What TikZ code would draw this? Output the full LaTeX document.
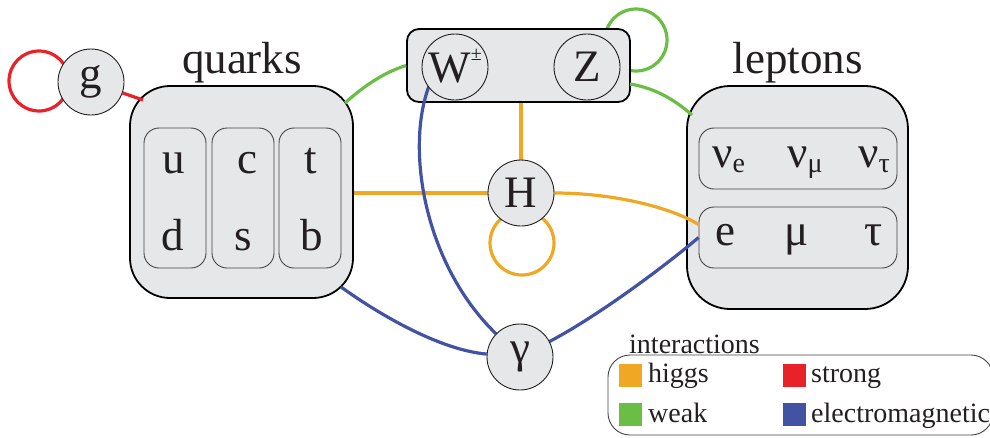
\documentclass[tikz,border=0pt]{standalone}
\usepackage{fontspec}
\setmainfont{LiberationSerif}[Extension=.ttf, UprightFont=*-Regular,
  BoldFont=*-Bold, ItalicFont=*-Italic, BoldItalicFont=*-BoldItalic]
\usetikzlibrary{calc}

\definecolor{ink}{RGB}{35,31,32}
\definecolor{panel}{RGB}{230,231,232}
\definecolor{cellline}{RGB}{70,68,68}
\definecolor{higgscol}{RGB}{240,167,35}
\definecolor{strongcol}{RGB}{233,33,40}
\definecolor{weakcol}{RGB}{107,190,69}
\definecolor{emcol}{RGB}{67,83,163}

\pgfdeclarelayer{loops}
\pgfdeclarelayer{links}
\pgfdeclarelayer{top}
\pgfsetlayers{loops,main,links,top}

\begin{document}
\begin{tikzpicture}[x=1pt,y=-1pt,
  every node/.style={text=ink},
  bigfont/.style={font=\fontsize{45}{50}\selectfont},
  legfont/.style={font=\fontsize{28}{32}\selectfont},
  particle/.style={circle, draw=ink, line width=0.9pt, fill=panel,
    minimum size=66pt, inner sep=0pt, bigfont},
  group/.style={draw=black, line width=1.8pt, fill=panel,
    rounded corners=#1, inner sep=0pt},
  cell/.style={draw=cellline, line width=0.9pt, rounded corners=15pt, inner sep=0pt},
  link/.style={line width=3.2pt},
  swatch/.style={fill=#1, minimum size=23pt, inner sep=0pt},
  txt/.style={bigfont, anchor=base, inner sep=0pt},
  legtxt/.style={legfont, anchor=base west, inner sep=0pt}]

\useasboundingbox (0,0) rectangle (990,437);

% ---- force carriers (drawn on top of everything) ----
\begin{pgfonlayer}{top}
  \node[particle] (g) at (91,82) {g};
  \node[particle, text height=30pt, text depth=0pt] (W) at (455,67)
    {W\raisebox{22pt}{\fontsize{20}{20}\selectfont ±}};
  \node[particle] (Z) at (587,67) {Z};
  \node[particle] (H) at (521,193) {H};
  \node[particle] (gam) at (520,357) {γ};
\end{pgfonlayer}

% ---- quarks ----
\node[group=40pt, minimum width=223pt, minimum height=212pt] (Q) at (241.5,192) {};
\node[txt] (qlab) at (242,73) {quarks};
\node[cell, minimum width=62pt, minimum height=140pt] (q1) at (175,198) {};
\node[cell, minimum width=62pt, minimum height=140pt] (q2) at (243,198) {};
\node[cell, minimum width=62pt, minimum height=140pt] (q3) at (310,198) {};
\node[txt] (qu) at (174,173) {u};
\node[txt] (qd) at (173,250) {d};
\node[txt] (qc) at (247,173) {c};
\node[txt] (qs) at (243,250) {s};
\node[txt] (qt) at (311,173) {t};
\node[txt] (qb) at (312,250) {b};

% ---- leptons ----
\node[group=43pt, minimum width=221pt, minimum height=223pt] (L) at (797.5,197.5) {};
\node[txt] (llab) at (797.5,73) {leptons};
\node[cell, minimum width=198pt, minimum height=61pt] (nu) at (798,158.5) {};
\node[cell, minimum width=198pt, minimum height=61pt] (ch) at (798,237.5) {};
\node[txt, anchor=base west] (nue) at (712,167)
  {ν\raisebox{-5pt}{\fontsize{28}{28}\selectfont e}};
\node[txt, anchor=base west] (num) at (787,167)
  {ν\raisebox{-5pt}{\fontsize{28}{28}\selectfont μ}};
\node[txt, anchor=base west] (nut) at (858,167)
  {ν\raisebox{-5pt}{\fontsize{28}{28}\selectfont τ}};
\node[txt] (le) at (725,245) {e};
\node[txt] (lm) at (797,245) {μ};
\node[txt] (lt) at (874,245) {τ};

% ---- W / Z pair ----
\node[group=12pt, minimum width=223pt, minimum height=73pt] (WZ) at (518.5,65.5) {};

% ---- interactions ----
\begin{pgfonlayer}{links}
  \coordinate (Qg) at (143,100);
  \coordinate (Qw) at (345,103);
  \coordinate (Qe) at (341,287);
  \coordinate (WZe) at (630,84);
  \coordinate (Lw) at (692,115);
  \coordinate (eh) at ($(ch.west)+(0,-13)$);
  \coordinate (eb) at (ch.west);
  \coordinate (Wb) at ($(W)+(-26,19)$);

  \draw[link, strongcol] (g) -- (Qg);
  \draw[link, weakcol] (Qw) .. controls (365,85) and (385,72) .. (WZ.west);
  \draw[link, weakcol] (WZe) .. controls (655,88) and (675,100) .. (Lw);
  \draw[link, higgscol] (Q.east |- H) -- (H);
  \draw[link, higgscol] (H |- WZ.south) -- (H);
  \draw[link, higgscol] (H.east) .. controls (615,193) and (672,208) .. (eh);
  \draw[link, emcol] (Wb) .. controls (405,150) and (425,265) .. (gam);
  \draw[link, emcol] (Qe) .. controls (380,315) and (440,350) .. (gam);
  \draw[link, emcol] (gam) .. controls (600,315) and (670,262) .. (eb);
\end{pgfonlayer}

% ---- self-interaction loops ----
\begin{pgfonlayer}{loops}
  \coordinate (gloop) at ($(g)+(-52,-1)$);
  \coordinate (zloop) at ($(Z)+(49,-27)$);
  \coordinate (hloop) at ($(H)+(1,50)$);
  \draw[link, strongcol] (gloop) circle[radius=30pt];
  \draw[link, weakcol] (zloop) circle[radius=31pt];
  \draw[link, higgscol] (hloop) circle[radius=32pt];
\end{pgfonlayer}

% ---- legend ----
\node[legtxt] (legtitle) at (629,353) {interactions};
\node[draw=cellline, line width=0.9pt, rounded corners=22pt, inner sep=0pt,
  minimum width=385pt, minimum height=80pt] (legbox) at (800.5,395) {};
\node[swatch=higgscol] (sw1) at (630.5,375.5) {};
\node[swatch=strongcol] (sw2) at (794.5,375.5) {};
\node[swatch=weakcol] (sw3) at (630.5,414.5) {};
\node[swatch=emcol] (sw4) at (794.5,414.5) {};
\node[legtxt] (t1) at (648,382) {higgs};
\node[legtxt] (t2) at (811,382) {strong};
\node[legtxt] (t3) at (648,422) {weak};
\node[legtxt] (t4) at (811,422) {electromagnetic};

\end{tikzpicture}
\end{document}
